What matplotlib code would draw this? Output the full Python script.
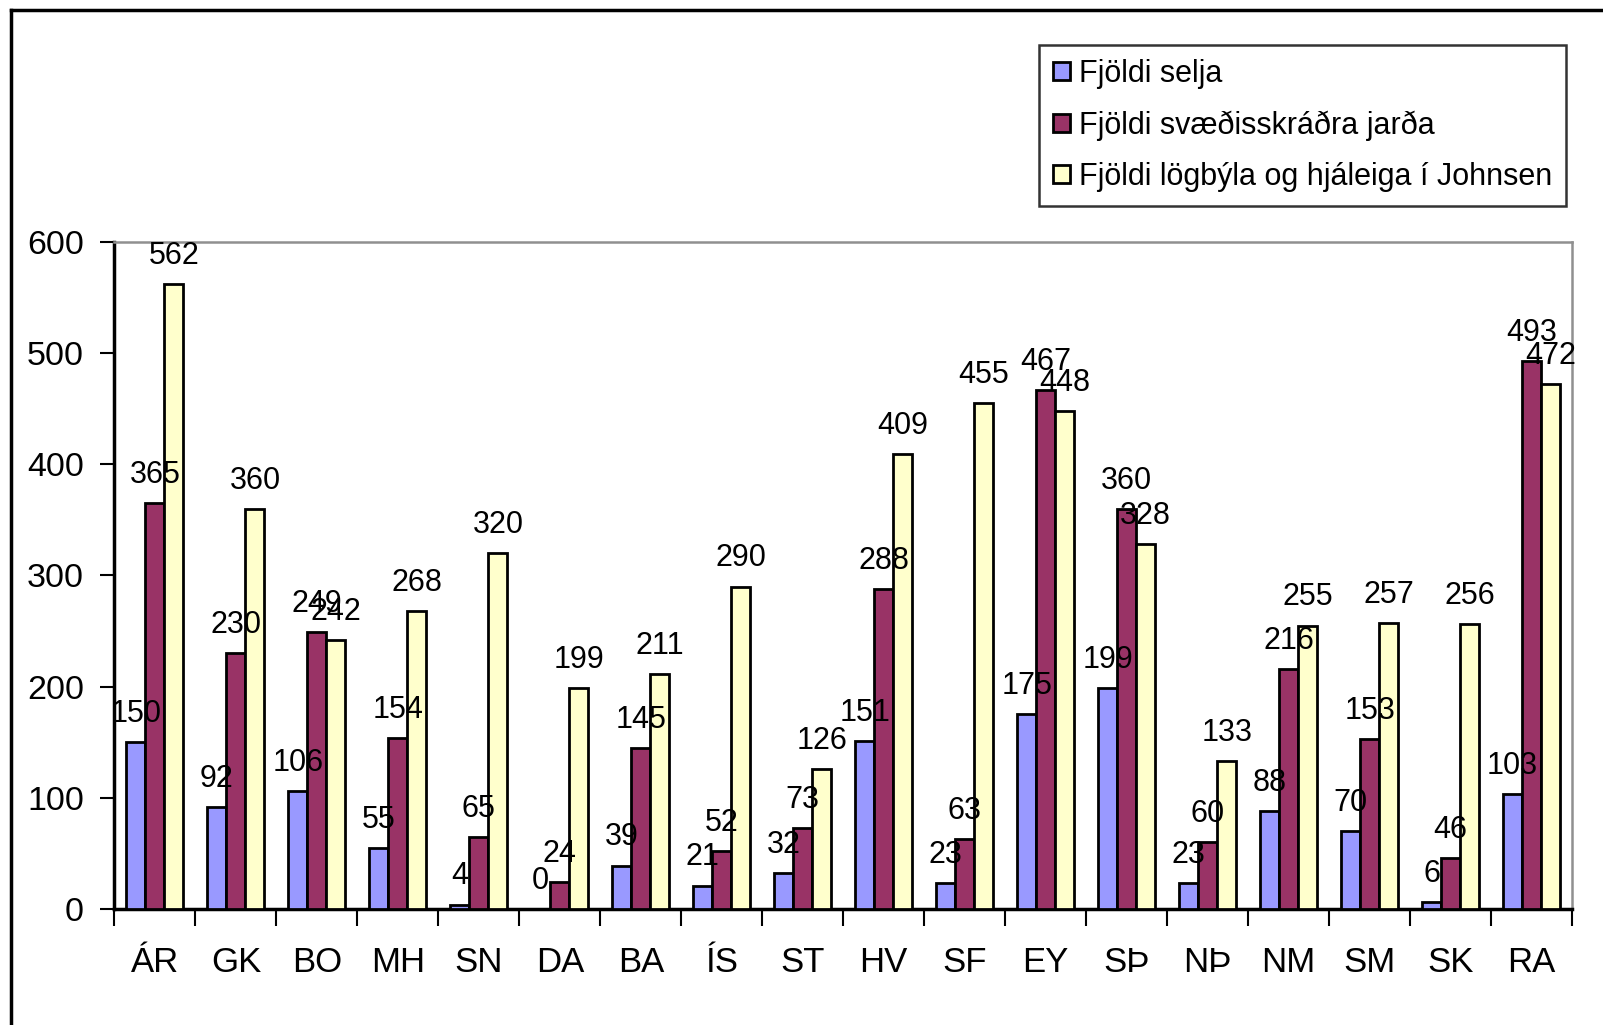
import numpy as np
import matplotlib
matplotlib.use("Agg")
from matplotlib import pyplot as plt
from matplotlib.lines import Line2D

plt.rcParams['font.family'] = ['Liberation Sans', 'DejaVu Sans']

regions = ["ÁR", "GK", "BO", "MH", "SN", "DA", "BA", "ÍS", "ST",
           "HV", "SF", "EY", "SÞ", "NÞ", "NM", "SM", "SK", "RA"]
selja = [150, 92, 106, 55, 4, 0, 39, 21, 32, 151, 23, 175, 199, 23, 88, 70, 6, 103]
jardir = [365, 230, 249, 154, 65, 24, 145, 52, 73, 288, 63, 467, 360, 60, 216, 153, 46, 493]
johnsen = [562, 360, 242, 268, 320, 199, 211, 290, 126, 409, 455, 448, 328, 133, 255, 257, 256, 472]

series_names = ["Fjöldi selja", "Fjöldi svæðisskráðra jarða", "Fjöldi lögbýla og hjáleiga í Johnsen"]
colors = ['#9999FF', '#993366', '#FFFFCC']

fig = plt.figure(figsize=(16.03, 10.25), dpi=100)
ax = fig.add_axes([0.0714, 0.1132, 0.9093, 0.6507])

x = np.arange(len(regions))
w = 0.235
for i, (vals, name, c) in enumerate(zip([selja, jardir, johnsen], series_names, colors)):
    ax.bar(x + (i - 1) * w, vals, w, color=c, edgecolor='black', linewidth=2, label=name, zorder=3)
    for xi, v in zip(x + (i - 1) * w, vals):
        ax.annotate(str(v), (xi, v), xytext=(0, 14.5), textcoords='offset points',
                    ha='center', va='baseline', fontsize=22, zorder=4)

ax.set_xlim(-0.5, len(regions) - 0.5)
ax.set_ylim(0, 600)
ax.set_yticks(range(0, 601, 100))
ax.tick_params(axis='y', labelsize=24.5, length=10, width=1.5, direction='out', pad=12)

# category labels between boundary ticks
ax.set_xticks(np.arange(-0.5, len(regions)), minor=False)
ax.set_xticklabels([])
ax.set_xticks(x, minor=True)
ax.set_xticklabels(regions, minor=True)
ax.tick_params(axis='x', which='major', length=12, width=1.5, direction='out')
ax.tick_params(axis='x', which='minor', length=0, labelsize=25, pad=27)

for s in ['left', 'bottom']:
    ax.spines[s].set_color('black')
    ax.spines[s].set_linewidth(2.5)
for s in ['top', 'right']:
    ax.spines[s].set_color('#909090')
    ax.spines[s].set_linewidth(1.8)

leg = fig.legend(loc='upper right', bbox_to_anchor=(0.9769, 0.9561), fontsize=22,
                 frameon=True, fancybox=False, edgecolor='black', borderaxespad=0,
                 handlelength=0.55, handleheight=0.55, handletextpad=0.3,
                 labelspacing=0.7, borderpad=0.45)
leg.get_frame().set_linewidth(1.8)

# outer chart frame
fig.add_artist(Line2D([0.0066, 1.0], [0.990, 0.990], color='black', linewidth=2.5, transform=fig.transFigure))
fig.add_artist(Line2D([0.0066, 0.0066], [0.990, 0.0], color='black', linewidth=2.5, transform=fig.transFigure))

fig.savefig('out.png', dpi=100)
